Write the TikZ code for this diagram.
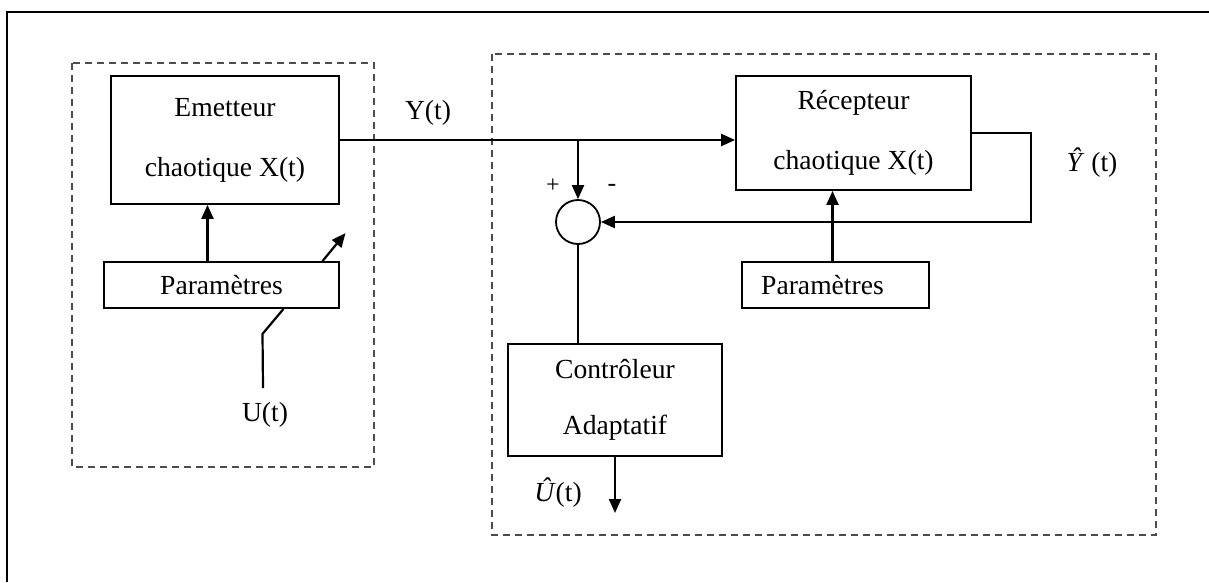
\documentclass[tikz,border=0pt]{standalone}
\usepackage{fontspec}
\setmainfont{Liberation Serif}
\usepackage{tikz}
\usetikzlibrary{calc,arrows.meta}

\begin{document}
\begin{tikzpicture}[x=1pt, y=-1pt,
		bloc/.style={draw, line width=1.8pt, inner sep=0pt, align=center},
		fil/.style={line width=2.2pt},
		fleche/.style={fil, -{Triangle[length=14pt, width=12pt]}},
		zone/.style={draw=black!70, line width=2pt, dash pattern=on 7pt off 5pt},
		txt/.style={inner sep=0pt}]
			%%%%% START %%%%%
			\useasboundingbox (0, 0) rectangle (1209, 582);
			\fontsize{27.6}{56}\selectfont
			
			\draw[line width=2.4pt] (7, 582) -- (7, 12) -- (1212, 12);
			
			\draw[zone] (72, 63) rectangle (374, 467);
			\draw[zone] (492, 54) rectangle (1156, 535);
			
			\node[bloc, minimum width=228, minimum height=128, font=\fontsize{27.6}{60}\selectfont] (emet) at (225, 140) {Emetteur\\chaotique X(t)};
			\node[bloc, minimum width=235, minimum height=46] (param1) at (221.5, 285) {Param\`etres};
			
			\node[bloc, minimum width=235, minimum height=114, font=\fontsize{27.6}{60}\selectfont] (recep) at (853.5, 133) {R\'ecepteur\\chaotique X(t)};
			\node[bloc, minimum width=187, minimum height=46] (param2) at (835.5, 285) {\hspace*{-26pt}Param\`etres};
			
			\node[draw, circle, line width=1.8pt, minimum size=44, inner sep=0pt] (sum) at (578, 222) {};
			\node[bloc, minimum width=214, minimum height=112] (ctrl) at (615, 400) {Contr\^oleur\\Adaptatif};
			
			\coordinate (br) at (sum |- emet.east);
			\coordinate (yh) at (1031, 133);
			\coordinate (uh) at (615, 513);
			\coordinate (ut) at (263, 388);
			
			\draw[fleche] (emet.east) -- (emet.east -| recep.west);
			\draw[fleche] (br) -- (sum.north);
			\draw[fleche] (recep.east) -- (yh) |- (sum.east);
			\draw[fil] (sum.south) -- (sum.south |- ctrl.north);
			\draw[fleche] (ctrl.south -| uh) -- (uh);
			
			\draw[fleche] ([xshift=-14pt]param1.north) -- ([xshift=-14pt]param1.north |- emet.south);
			\draw[fleche] ([xshift=-3pt]param2.north) -- ([xshift=-3pt]param2.north |- recep.south);
			\draw[fleche] ([xshift=101pt]param1.north) -- ++(23, -28);
			\draw[fil] ([xshift=62pt]param1.south) -- ++(-21, 25) -- (ut);
			
			\node[txt] (y) at (428, 113) {Y(t)};
			\node[txt] (yhat) at (1092, 163) {\textit{\^Y} (t)};
			\node[txt] (u) at (265, 415) {U(t)};
			\node[txt] (uhat) at (558, 493) {\textit{\^U}(t)};
			\node[txt, font=\fontsize{24}{28}\selectfont] (plus) at (553, 186) {+};
			\node[txt, font=\fontsize{26}{28}\selectfont] (moins) at (612, 188) {-};
			
			%%%%% END %%%%%
\end{tikzpicture}
\end{document}
